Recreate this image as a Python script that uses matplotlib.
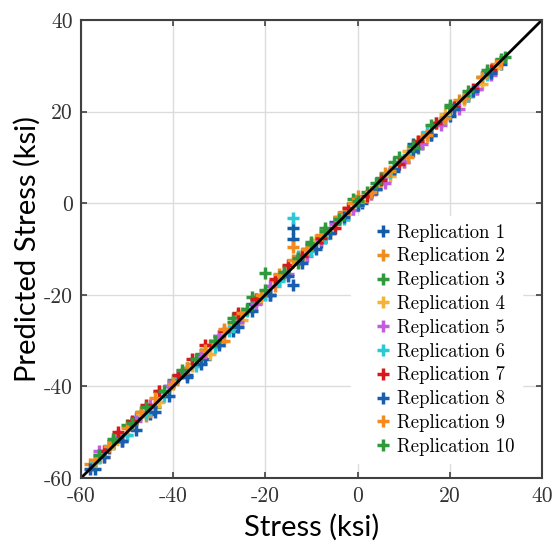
import matplotlib
matplotlib.use('Agg')
import matplotlib.pyplot as plt

plt.rcParams['axes.unicode_minus'] = False

# colours of the ten replications (MATLAB-like order)
colors = ['#135ca8', '#f28a1e', '#2e9a3c', '#f5b233', '#c25de0',
          '#2bc8d6', '#d7191c', '#1a5eb0', '#f28a1e', '#2e9a3c']

# measured stress (x) and predicted stress (y), ksi, per replication
x1 = [-57, -54, -51, -48, -45, -41, -37, -33, -30, -27, -23, -19, -16, -14, -14, -11, -8, -5, -2, 1, 4, 8, 12, 16, 20, 24, 28, 31]
y1 = [-58, -53.5, -52, -47, -46, -40, -37.5, -34, -29, -28, -22, -20, -15, -5.5, -7.8, -10, -8.5, -4, -2.5, 0, 3, 7, 13, 15, 19, 23.5, 28.5, 30.5]
x2 = [-58, -55, -52, -49, -46, -43, -40, -36, -32, -29, -26, -22, -18, -14, -12, -9, -6, -3, 0, 3, 6, 10, 14, 18, 22, 26, 30]
y2 = [-57, -55.5, -50.5, -48, -46.5, -41, -39, -35, -31, -30, -24.5, -21, -18, -9.6, -11, -8, -6.5, -2, 1.5, 2, 6.5, 9, 14.5, 18, 22.5, 25, 30.5]
x3 = [-57, -53, -50, -47, -44, -40, -37, -34, -31, -27, -23, -20, -17, -13, -10, -7, -4, -1, 2, 5, 9, 13, 17, 20, 23, 27, 31]
y3 = [-56.5, -52, -48.5, -45.5, -44.5, -38.5, -36, -33, -30, -25, -20.5, -15.2, -16.5, -13, -8.5, -5.5, -3, 1, 2.5, 5.5, 10, 12, 17.5, 21.5, 23, 27.5, 31.5]
x4 = [-56, -53, -50, -47, -43, -40, -36, -32, -28, -25, -21, -18, -15, -12, -9, -6, -2, 1, 4, 7, 11, 15, 19, 23, 27, 30]
y4 = [-55, -52.5, -50.5, -46, -43.5, -39, -35.5, -33, -27.5, -25.5, -21, -17, -14, -12.5, -8, -6.5, -2.5, 0.5, 3.5, 6, 11.5, 14.5, 19.5, 22.5, 26, 29.5]
x5 = [-56, -52, -48, -45, -41, -38, -34, -30, -26, -22, -19, -15, -11, -8, -5, -1, 3, 6, 10, 14, 18, 22, 26, 29]
y5 = [-54, -51, -47.5, -44, -40, -37, -33.5, -29, -26, -22, -18, -15.5, -11.5, -8, -4.5, -1.5, 2, 4.5, 9, 13, 17, 20.5, 25, 28]
x6 = [-57, -54, -50, -46, -42, -39, -35, -31, -28, -24, -20, -17, -14, -13, -10, -7, -3, 0, 3, 7, 11, 15, 19, 24, 28]
y6 = [-56.5, -53, -50.5, -46, -42, -38, -35.5, -31.5, -28, -23.5, -20, -17, -3.3, -11.5, -10.5, -7.5, -3.5, -0.5, 2.5, 6.5, 10.5, 15.5, 18.5, 23.5, 28]
x7 = [-55, -52, -49, -46, -43, -39, -36, -33, -29, -26, -22, -18, -15, -12, -8, -5, -2, 2, 5, 9, 13, 17, 21, 25, 29]
y7 = [-54, -50, -47.5, -44, -41, -37.5, -34, -31, -28, -24, -21, -16.5, -13.5, -11.5, -7.5, -5.5, -1, 1.5, 5, 8.5, 13.5, 17.5, 21, 25, 29]
x8 = [-58, -55, -51, -48, -44, -41, -37, -34, -30, -26, -23, -19, -15, -14, -12, -9, -6, -3, 0, 4, 8, 12, 16, 21, 25, 29]
y8 = [-58, -55.5, -52, -49.5, -45.5, -42, -38, -35, -31, -27, -23.5, -20, -16, -17.9, -13, -10, -6.5, -3, -0.5, 3, 7.5, 11.5, 15, 20.5, 24.5, 28.5]
x9 = [-57, -54, -50, -47, -44, -40, -37, -33, -29, -25, -21, -17, -14, -11, -8, -4, -1, 3, 7, 11, 15, 19, 23, 27, 31]
y9 = [-56, -53, -49, -45.5, -42.5, -39.5, -36, -32, -27.5, -24, -20, -15.5, -12.5, -10, -7, -3, 0, 2.5, 7, 10, 15, 18.5, 23, 27.5, 31]
x10 = [-56, -53, -49, -46, -42, -38, -35, -31, -27, -24, -20, -16, -13, -10, -7, -4, 0, 4, 8, 12, 16, 20, 24, 28, 32]
y10 = [-55, -51.5, -48, -44.5, -41, -36.5, -34, -30, -26, -23, -19, -15, -12, -9, -6, -3.5, 0.5, 4.5, 9, 12.5, 17, 21, 24.5, 29, 32]

xs = [x1, x2, x3, x4, x5, x6, x7, x8, x9, x10]
ys = [y1, y2, y3, y4, y5, y6, y7, y8, y9, y10]
labels = ['Replication %d' % (i + 1) for i in range(10)]

fig = plt.figure(figsize=(5.56, 5.48), dpi=100)
ax = fig.add_axes([0.1457, 0.1277, 0.8291, 0.8358])

for x, y, c, lab in zip(xs, ys, colors, labels):
    ax.plot(x, y, linestyle='none', marker='+', ms=9, mew=2.5, color=c, label=lab)

# perfect prediction line
ax.plot([-60, 40], [-60, 40], color='black', lw=2)

ax.set_xlim(-60, 40)
ax.set_ylim(-60, 40)
ax.set_xticks([-60, -40, -20, 0, 20, 40])
ax.set_yticks([-60, -40, -20, 0, 20, 40])
ax.grid(True, color='#dcdcdc', lw=1)
ax.set_axisbelow(True)
ax.tick_params(direction='in', top=True, right=True, length=4, width=1.2,
               color='#404040', labelsize=15.5, labelcolor='#333333', pad=6)
for lab in ax.get_xticklabels() + ax.get_yticklabels():
    lab.set_family('cmr10')
for s in ax.spines.values():
    s.set_color('#404040')
    s.set_linewidth(1.5)

ax.set_xlabel('Stress (ksi)', family='Lato', fontsize=21, labelpad=6)
ax.set_ylabel('Predicted Stress (ksi)', family='Lato', fontsize=21, labelpad=2)

# long handle + negative pad: wide white box like the MATLAB legend
leg = ax.legend(loc='lower right', bbox_to_anchor=(0.956, 0.032),
                prop={'family': 'cmr10', 'size': 13.5},
                frameon=True, edgecolor='white', facecolor='white', framealpha=1,
                fancybox=False, handlelength=2.6, handletextpad=-0.55,
                labelspacing=0.31, borderaxespad=0)

fig.savefig('out.png', dpi=100)
